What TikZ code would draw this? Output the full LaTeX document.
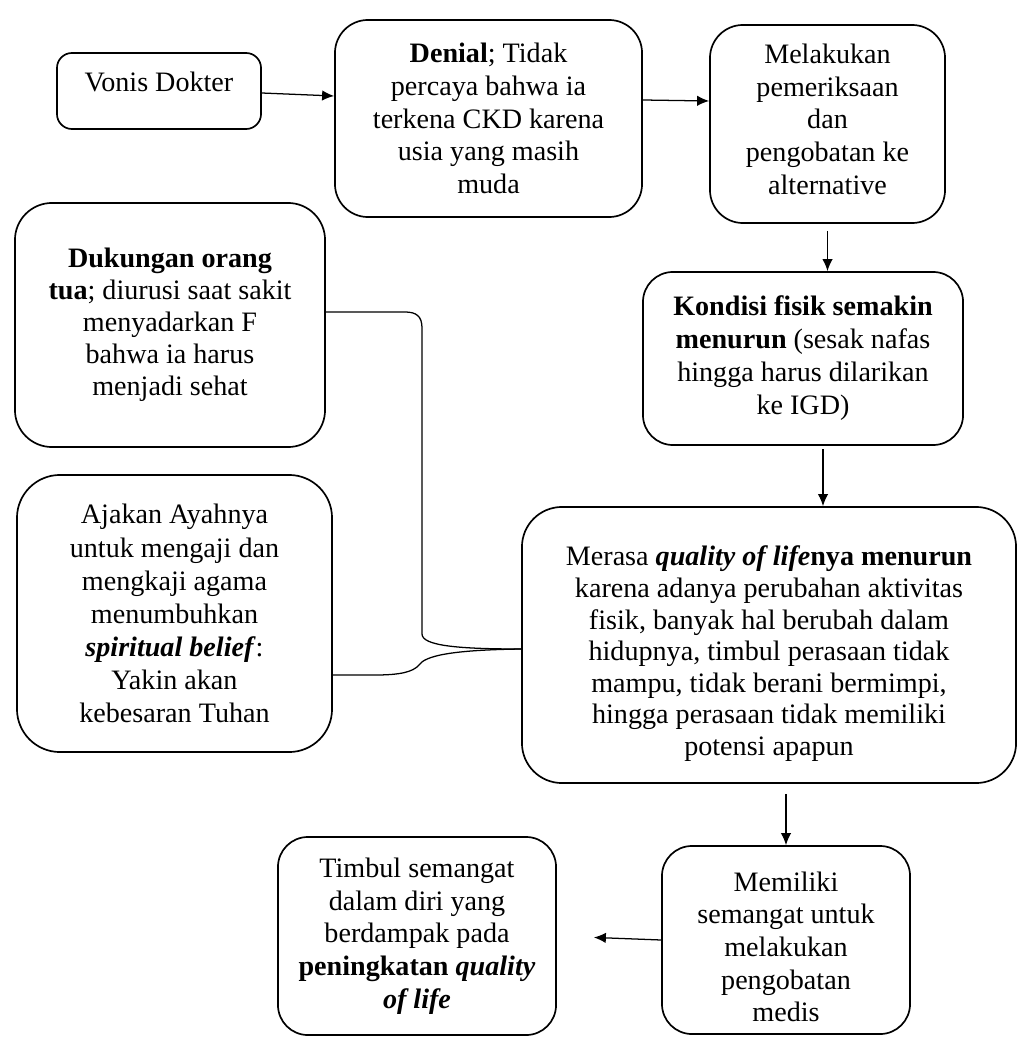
\documentclass[tikz,border=0pt]{standalone}
\usepackage{fontspec}
\setmainfont{Liberation Serif}
\usetikzlibrary{arrows.meta}
\tikzset{
  kotak/.style={draw,line width=1.2pt,rounded corners=0.825cm,align=center,inner sep=0pt,spasi=23.2},
  spasi/.style={font=\fontsize{20}{#1}\selectfont},
  panah/.style={-{Latex[length=0.3cm,width=0.26cm]},line width=0.9pt},
  kurung/.style={line width=0.9pt}
}

\begin{document}
\begin{tikzpicture}[x=0.025cm,y=-0.025cm]
  \useasboundingbox (0,0) rectangle (1019,1037);
  \node[kotak,rounded corners=0.375cm,minimum width=5.1cm,minimum height=1.9cm,text depth=0.45cm]
    (vonis) at (159,91) {Vonis Dokter};
  \node[kotak,minimum width=7.675cm,minimum height=4.925cm] (denial) at (488.5,118.5)
    {\textbf{Denial}; Tidak\\percaya bahwa ia\\terkena CKD karena\\usia yang masih\\muda};
  \node[kotak,minimum width=5.875cm,minimum height=4.95cm] (melakukan) at (827.5,124)
    {Melakukan\\pemeriksaan\\dan\\pengobatan ke\\alternative\rule[-7pt]{0pt}{0pt}};
  \node[kotak,rounded corners=0.925cm,spasi=22.8,minimum width=7.75cm,minimum height=6.1cm] (dukungan) at (170,325)
    {\textbf{Dukungan orang}\\\textbf{tua}; diurusi saat sakit\\menyadarkan F\\bahwa ia harus\\menjadi sehat};
  \node[kotak,rounded corners=1.075cm,spasi=23.5,minimum width=7.875cm,minimum height=6.925cm] (ajakan) at (174.5,613.5)
    {Ajakan Ayahnya\\untuk mengaji dan\\mengkaji agama\\menumbuhkan\\\textbf{\textit{spiritual belief}}:\\Yakin akan\\kebesaran Tuhan};
  \node[kotak,rounded corners=0.75cm,spasi=23.5,minimum width=8cm,minimum height=4.325cm] (kondisi) at (803,358.5)
    {\textbf{Kondisi fisik semakin}\\\textbf{menurun} (sesak nafas\\hingga harus dilarikan\\ke IGD)};
  \node[kotak,rounded corners=1cm,spasi=22.5,minimum width=12.35cm,minimum height=6.9cm] (merasa) at (769,645)
    {\rule{0pt}{26.5pt}Merasa \textbf{\textit{quality of life}nya menurun}\\karena adanya perubahan aktivitas\\fisik, banyak hal berubah dalam\\hidupnya, timbul perasaan tidak\\mampu, tidak berani bermimpi,\\hingga perasaan tidak memiliki\\potensi apapun};
  \node[kotak,rounded corners=0.75cm,minimum width=6.2cm,minimum height=4.7cm] (memiliki) at (786,940)
    {\rule{0pt}{23.7pt}Memiliki\\semangat untuk\\melakukan\\pengobatan\\medis};
  \node[kotak,rounded corners=0.75cm,minimum width=6.95cm,minimum height=4.95cm] (timbul) at (417,936)
    {Timbul semangat\\dalam diri yang\\berdampak pada\\\textbf{peningkatan \textit{quality}}\\\textbf{\textit{of life}}};

  \coordinate (turun) at ([xshift=0.5cm]kondisi.south);
  \draw[panah] ([yshift=-0.05cm]vonis.east) -- ([yshift=0.5625cm]denial.west);
  \draw[panah] ([yshift=0.4625cm]denial.east) -- ([yshift=0.575cm]melakukan.west);
  \draw[panah,shorten <=0.175cm] (melakukan.south) -- (melakukan.south |- kondisi.north);
  \draw[panah,shorten <=0.08cm] (turun) -- (turun |- merasa.north);
  \draw[panah,shorten <=0.25cm] (memiliki.north |- merasa.south) -- (memiliki.north);
  \draw[panah,shorten >=0.925cm] (memiliki.west) -- (timbul.east);

  \draw[kurung] (dukungan.east) ++(0,-13) -- (405,312)
    .. controls (416,312) and (422,316) .. (422,328) -- (422,634)
    .. controls (422,646) and (460,649) .. ([yshift=-0.1cm]merasa.west);
  \draw[kurung] (ajakan.east) ++(0,61.5) -- (375,675)
    .. controls (400,675) and (413,672) .. (419,665)
    .. controls (425,656) and (450,650) .. ([yshift=-0.1cm]merasa.west);
\end{tikzpicture}
\end{document}
